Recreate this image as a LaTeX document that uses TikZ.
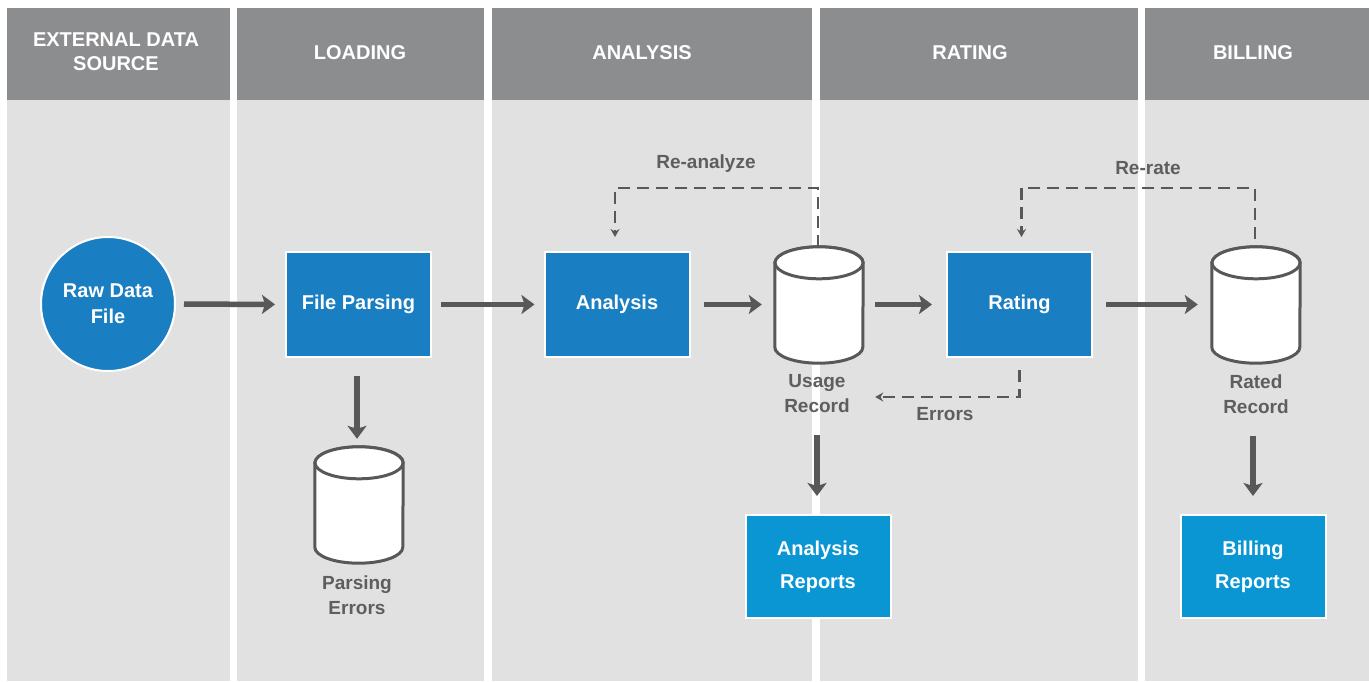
\documentclass[tikz,border=0pt]{standalone}
\usepackage{fontspec}
\setmainfont{Liberation Sans}
\usetikzlibrary{arrows.meta,calc,positioning}
\definecolor{hdrgray}{HTML}{8C8D8F}
\definecolor{lanegray}{HTML}{E1E1E1}
\definecolor{boxblue}{HTML}{1A7EC3}
\definecolor{repblue}{HTML}{0A96D3}
\definecolor{arrgray}{HTML}{58585A}
\definecolor{txtgray}{HTML}{5E5E60}
\tikzset{
  lanehdr/.style={fill=hdrgray},
  lanebody/.style={fill=lanegray},
  hdrtext/.style={text=white,font=\fontsize{20}{24}\selectfont\bfseries,align=center,inner sep=0pt},
  procbox/.style={rectangle,fill=boxblue,draw=white,line width=2pt,minimum width=145pt,minimum height=105pt,text=white,font=\fontsize{20}{26}\selectfont\bfseries,align=center,inner sep=0pt},
  repbox/.style={procbox,fill=repblue,minimum height=103pt,font=\fontsize{20}{33}\selectfont\bfseries},
  rawcircle/.style={circle,fill=boxblue,draw=white,line width=2pt,minimum size=134pt,text=white,font=\fontsize{20}{26}\selectfont\bfseries,align=center,inner sep=0pt},
  cylnode/.style={rectangle,minimum width=88pt,minimum height=116pt,inner sep=0pt},
  cylline/.style={draw=arrgray,fill=white,line width=3pt},
  lbl/.style={text=txtgray,font=\fontsize{19}{25}\selectfont\bfseries,align=center,inner sep=0pt},
  flow/.style={draw=arrgray,line width=5.5pt,-{Stealth[length=13pt,width=19pt,inset=3pt]}},
  dsh/.style={draw=arrgray,line width=2.5pt,dash pattern=on 12pt off 7pt,-{Stealth[length=8pt,width=9pt]}}
}
\newcommand{\drawcyl}[1]{%
  \filldraw[cylline] ($(#1.north west)+(0,16)$) -- ($(#1.south west)+(0,-16)$)
    arc[start angle=180,end angle=360,x radius=44pt,y radius=16pt]
    -- ($(#1.north east)+(0,16)$)
    arc[start angle=0,end angle=180,x radius=44pt,y radius=16pt] -- cycle;
  \draw[cylline] ($(#1.north)+(0,16)$) ellipse [x radius=44pt,y radius=16pt];
}
\begin{document}
\begin{tikzpicture}[x=1pt,y=-1pt]
\useasboundingbox (0,0) rectangle (1369,681);
\fill[white] (0,0) rectangle (1369,681);
% lanes
\fill[lanehdr] (7,8) rectangle (230,100);
\fill[lanebody] (7,100) rectangle (230,681);
\fill[lanehdr] (237,8) rectangle (484,100);
\fill[lanebody] (237,100) rectangle (484,681);
\fill[lanehdr] (492,8) rectangle (812,100);
\fill[lanebody] (492,100) rectangle (812,681);
\fill[lanehdr] (820,8) rectangle (1138,100);
\fill[lanebody] (820,100) rectangle (1138,681);
\fill[lanehdr] (1145,8) rectangle (1369,100);
\fill[lanebody] (1145,100) rectangle (1369,681);
% headers
\node[hdrtext] (h1) at (116,52) {EXTERNAL DATA\\SOURCE};
\node[hdrtext] (h2) at (360,53) {LOADING};
\node[hdrtext] (h3) at (642,53) {ANALYSIS};
\node[hdrtext] (h4) at (970,53) {RATING};
\node[hdrtext] (h5) at (1253,53) {BILLING};
% nodes
\node[rawcircle] (raw) at (108,304) {Raw Data\\File};
\node[procbox] (parse) at (358.5,304.5) {File Parsing};
\node[procbox] (analysis) at (617,304.5) {Analysis};
\node[procbox] (rating) at (1019.5,304.5) {Rating};
\node[cylnode] (usage) at (819,305) {};
\node[cylnode] (rated) at (1256,305) {};
\node[cylnode] (perr) at (359,505) {};
\drawcyl{usage}
\drawcyl{rated}
\drawcyl{perr}
\node[lbl] (ulbl) at (817,394) {Usage\\Record};
\node[lbl] (rlbl) at (1256,394) {Rated\\Record};
\node[lbl] (plbl) at (357,595) {Parsing\\Errors};
\node[repbox] (arep) at (818,566.5) {Analysis\\Reports};
\node[repbox] (brep) at (1253,566.5) {Billing\\Reports};
% solid flows
\draw[flow,shorten <=8pt,shorten >=10pt] (raw.east) -- (parse.west);
\draw[flow,shorten <=9pt,shorten >=9pt] (parse.east) -- (analysis.west);
\draw[flow,shorten <=13pt,shorten >=13pt] (analysis.east) -- (analysis.east -| usage.west);
\draw[flow,shorten <=12pt,shorten >=14pt] (rating.west -| usage.east) -- (rating.west);
\draw[flow,shorten <=13pt,shorten >=14pt] (rating.east) -- (rating.east -| rated.west);
\draw[flow,shorten <=18pt,shorten >=8pt] (parse.south -| perr.north) ++(-2,0) coordinate (pa) -- (pa |- perr.north);
\draw[flow,shorten <=22pt,shorten >=18pt] (ulbl.south) -- (ulbl.south |- arep.north);
\draw[flow,shorten <=22pt,shorten >=18pt] ($(rlbl.south)+(-3,0)$) coordinate (rb) -- (rb |- brep.north);
% dashed flows
\draw[dsh] ($(usage.north)+(-1,0)$) -- ++(0,-59) -| ($(analysis.north)+(-2,-14)$);
\node[lbl] (reanalyze) at (706,164) {Re-analyze};
\draw[dsh] ($(rated.north)+(-1,-8)$) -- ++(0,-51) -| ($(rating.north)+(2,-14)$);
\node[lbl] (rerate) at (1148,168) {Re-rate};
\draw[dsh] ($(rating.south)+(0,12)$) |- ($(usage.east)+(12,92)$);
\node[lbl] (errlbl) at (945,414) {Errors};
\end{tikzpicture}
\end{document}
